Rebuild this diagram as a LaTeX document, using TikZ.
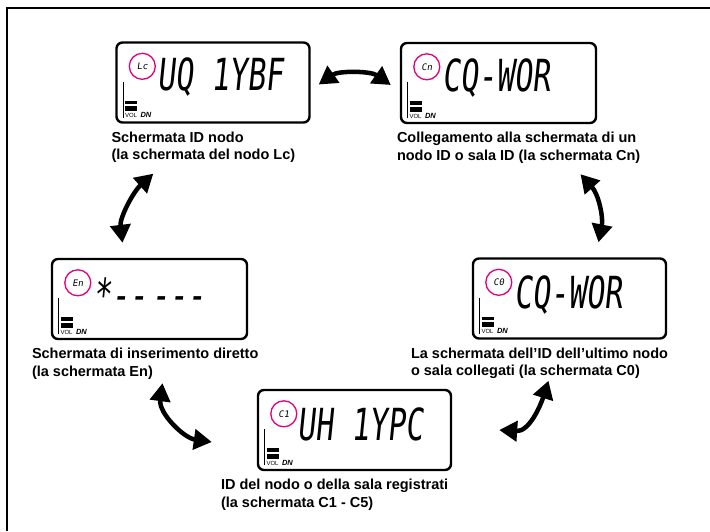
\documentclass[tikz,border=0pt]{standalone}
\usepackage{fontspec}
\setmainfont{Liberation Sans}
\newfontfamily\segfont[FakeSlant=0.15]{DejaVu Sans Mono}
\usetikzlibrary{arrows.meta, positioning}

\definecolor{lcdpink}{RGB}{228,0,124}

% big display characters
\newcommand{\segtext}[1]{\scalebox{1.15}[1.7]{\segfont\fontsize{26}{26}\selectfont #1}}

% meter, VOL DN and the circled tag of one screen
\newcommand{\lcdface}[2]{%
  \draw[line width=1.3pt] ([shift={(8,-42)}]#1.south west) -- ([shift={(8,-6)}]#1.south west);
  \fill ([shift={(10,-23)}]#1.south west) rectangle ([shift={(22,-19.5)}]#1.south west);
  \fill ([shift={(10,-17.5)}]#1.south west) rectangle ([shift={(22,-12.5)}]#1.south west);
  \node[anchor=base west, font=\fontsize{6}{6}\selectfont] (#1vol) at ([shift={(9.5,-6)}]#1.south west) {VOL};
  \node[anchor=base west, font=\fontsize{7.5}{7.5}\selectfont\bfseries\itshape] (#1dn) at ([shift={(25,-6)}]#1.south west) {DN};
  \draw[lcdpink, line width=1.3pt] ([shift={(27,25)}]#1.north west) circle (13pt);
  \node[font=\segfont\fontsize{9}{9}\selectfont] (#1tag) at ([shift={(27,25)}]#1.north west) {#2};
}

\begin{document}
\begin{tikzpicture}[
        x=1pt, y=-1pt,
        every node/.style={inner sep=0pt},
        lcd/.style={draw, line width=2.4pt, rounded corners=6pt, minimum width=193pt, minimum height=80pt},
        caption/.style={anchor=north west, align=left, font=\fontsize{14.5}{17.5}\selectfont\bfseries},
        cyc/.style={line width=4.5pt, {Triangle[length=18pt,width=20pt]}-{Triangle[length=18pt,width=20pt]}}
    ]
    \useasboundingbox (0,0) rectangle (710,531);

    % Frame
    \draw[line width=1.2pt] (7,531) -- (7,8) -- (710,8);

    % Screens
    \node[lcd] (lcdNode) at (213,82.5) {};
    \node[lcd, minimum width=195pt] (lcdLink) at (498.5,83) {};
    \node[lcd, minimum width=195pt] (lcdDirect) at (149.5,299) {};
    \node[lcd] (lcdLast) at (569.5,298.5) {};
    \node[lcd] (lcdReg) at (354.5,430) {};

    \lcdface{lcdNode}{Lc}
    \lcdface{lcdLink}{Cn}
    \lcdface{lcdDirect}{En}
    \lcdface{lcdLast}{C0}
    \lcdface{lcdReg}{C1}

    % Display texts
    \node[anchor=west] (txtNode) at ([shift={(42,36)}]lcdNode.north west) {\segtext{UQ 1YBF}};
    \node[anchor=west] (txtLink) at ([shift={(42,36)}]lcdLink.north west) {\segtext{CQ-WOR}};
    \node[anchor=west] (txtDirect) at ([shift={(42,36)}]lcdDirect.north west) {\segtext{*-\kern0pt-\kern4pt-\kern0pt-\kern0pt-}};
    \node[anchor=west] (txtLast) at ([shift={(42,38)}]lcdLast.north west) {\segtext{CQ-WOR}};
    \node[anchor=west] (txtReg) at ([shift={(40,36)}]lcdReg.north west) {\segtext{UH 1YPC}};

    % Captions
    \node[caption] (capNode) at ([shift={(-4,8)}]lcdNode.south west) {Schermata ID nodo\\(la schermata del nodo Lc)};
    \node[caption] (capLink) at ([shift={(-3,8)}]lcdLink.south west) {Collegamento alla schermata di un\\nodo ID o sala ID (la schermata Cn)};
    \node[caption] (capDirect) at ([shift={(-19,8)}]lcdDirect.south west) {Schermata di inserimento diretto\\(la schermata En)};
    \node[caption] (capLast) at ([shift={(-61,8)}]lcdLast.south west) {La schermata dell'ID dell'ultimo nodo\\o sala collegati (la schermata C0)};
    \node[caption] (capReg) at ([shift={(-36,8)}]lcdReg.south west) {ID del nodo o della sala registrati\\(la schermata C1 - C5)};

    % Arrows between screens
    \coordinate (a1s) at ([shift={(8,2)}]lcdNode.east);
    \coordinate (a1e) at ([shift={(-9,2)}]lcdLink.west);
    \draw[cyc] (a1s) .. controls +(20,-14) and +(-20,-14) .. (a1e);

    \coordinate (a2s) at ([shift={(82,50)}]lcdLink.south);
    \coordinate (a2e) at ([shift={(29,-15)}]lcdLast.north);
    \draw[cyc] (a2s) .. controls +(18,20) and +(5,-25) .. (a2e);

    \coordinate (a3s) at ([shift={(47,0)}]lcdReg.east);
    \coordinate (a3e) at ([shift={(-21,41)}]lcdLast.south);
    \draw[cyc] (a3s) .. controls +(30,2) and +(-8,25) .. (a3e);

    \coordinate (a4s) at ([shift={(13,43)}]lcdDirect.south);
    \coordinate (a4e) at ([shift={(-45,12)}]lcdReg.west);
    \draw[cyc] (a4s) .. controls +(-4,30) and +(-28,-4) .. (a4e);

    \coordinate (a5s) at ([shift={(38,50)}]lcdNode.south west);
    \coordinate (a5e) at ([shift={(-27,-15)}]lcdDirect.north);
    \draw[cyc] (a5s) .. controls +(-20,18) and +(-3,-25) .. (a5e);

\end{tikzpicture}
\end{document}
